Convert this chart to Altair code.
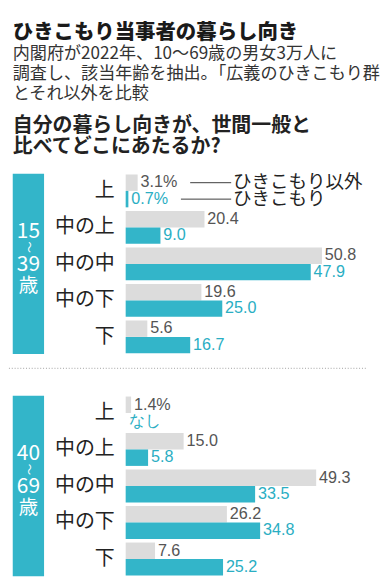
import altair as alt
import pandas as pd

categories = ["上", "中の上", "中の中", "中の下", "下"]
series_names = ["ひきこもり以外", "ひきこもり"]

young_other = [3.1, 20.4, 50.8, 19.6, 5.6]
young_hiki = [0.7, 9.0, 47.9, 25.0, 16.7]
old_other = [1.4, 15.0, 49.3, 26.2, 7.6]
old_hiki = [0.0, 5.8, 33.5, 34.8, 25.2]

young_other_labels = ["3.1%", "20.4", "50.8", "19.6", "5.6"]
young_hiki_labels = ["0.7%", "9.0", "47.9", "25.0", "16.7"]
old_other_labels = ["1.4%", "15.0", "49.3", "26.2", "7.6"]
old_hiki_labels = ["なし", "5.8", "33.5", "34.8", "25.2"]

age_young = ["15", "～", "39", "歳"]
age_old = ["40", "～", "69", "歳"]

legend_x0 = [16.7, 14.3]
legend_x1 = [27.3, 27.3]

title_lines = ["ひきこもり当事者の暮らし向き"]
subtitle_lines = [
    "内閣府が2022年、10～69歳の男女3万人に",
    "調査し、該当年齢を抽出。「広義のひきこもり群",
    "とそれ以外を比較",
]
question_lines = ["自分の暮らし向きが、世間一般と", "比べてどこにあたるか?"]

# baselines of the header lines, in pixels above the top panel's plot area
title_base = [-142]
subtitle_base = [-121, -100, -79]
question_base = [-43.5, -21.5]

TEAL = "#33b5c9"
GRAY = "#dcdcdc"
JP = "Noto Sans CJK JP"
W = 250
H = 190
XMAX = 61.4
LEFT = -119


def header_layer(lines, bases, size, weight, color):
    d = pd.DataFrame({"t": lines, "py": bases})
    return alt.Chart(d).mark_text(align="left", baseline="alphabetic", font=JP,
                                  fontSize=size, fontWeight=weight,
                                  color=color).encode(
        x=alt.value(LEFT), y=alt.Y("py:Q", scale=None), text="t:N")


def panel(other, hiki, other_lbl, hiki_lbl, age, with_legend, with_sep, with_header):
    df = pd.DataFrame({
        "cat": categories * 2,
        "series": [series_names[0]] * 5 + [series_names[1]] * 5,
        "value": other + hiki,
        "label": other_lbl + hiki_lbl,
    })
    y = alt.Y("cat:N", sort=categories,
              scale=alt.Scale(paddingInner=0.1, paddingOuter=0.02),
              axis=alt.Axis(title=None, domain=False, ticks=False,
                            labelFontSize=21, labelFont=JP, labelColor="#222",
                            labelPadding=12))
    yoff = alt.YOffset("series:N", sort=series_names,
                       scale=alt.Scale(paddingInner=0, paddingOuter=0))
    x = alt.X("value:Q", scale=alt.Scale(domain=[0, XMAX], nice=False, zero=True),
              axis=None)
    base = alt.Chart(df)
    bars = base.mark_bar().encode(
        x=x, y=y, yOffset=yoff,
        color=alt.Color("series:N",
                        scale=alt.Scale(domain=series_names, range=[GRAY, TEAL]),
                        legend=None),
    )
    txt_other = base.transform_filter(
        alt.datum.series == series_names[0]
    ).mark_text(align="left", baseline="middle", dx=3, fontSize=17,
                font="Liberation Sans", color="#555").encode(
        x=x, y=y, yOffset=yoff, text="label:N")
    txt_hiki = base.transform_filter(
        alt.datum.series == series_names[1]
    ).mark_text(align="left", baseline="middle", dx=3, fontSize=17,
                font="Liberation Sans", color="#2aaec3").encode(
        x=x, y=y, yOffset=yoff, text="label:N")

    box = alt.Chart(pd.DataFrame({"a": [0]})).mark_rect(color=TEAL).encode(
        x=alt.value(LEFT), x2=alt.value(-86), y=alt.value(0), y2=alt.value(H))
    age_df = pd.DataFrame({"t": age,
                           "py": [H / 2 - 34, H / 2 - 17.5, H / 2, H / 2 + 23.5],
                           "ang": [0, 90, 0, 0], "fs": [22, 12, 22, 20.5]})
    age_txt = alt.Chart(age_df).mark_text(color="white", font=JP, baseline="middle",
                                          align="center").encode(
        x=alt.value(-102.5),
        y=alt.Y("py:Q", scale=None),
        text="t:N",
        angle=alt.Angle("ang:Q", scale=None),
        size=alt.Size("fs:Q", scale=None, legend=None),
    )
    layers = [bars, txt_other, txt_hiki, box, age_txt]

    if with_legend:
        leg_df = pd.DataFrame({"cat": [categories[0]] * 2, "series": series_names,
                               "x0": legend_x0, "x1": legend_x1, "t": series_names})
        leg_rule = alt.Chart(leg_df).mark_rule(color="#333", strokeWidth=1).encode(
            x=alt.X("x0:Q", scale=alt.Scale(domain=[0, XMAX], nice=False), axis=None),
            x2="x1:Q", y=y, yOffset=yoff)
        leg_txt = alt.Chart(leg_df).mark_text(align="left", baseline="middle", dx=2,
                                              fontSize=19.5, font=JP, color="#222").encode(
            x=alt.X("x1:Q", scale=alt.Scale(domain=[0, XMAX], nice=False), axis=None),
            y=y, yOffset=yoff, text="t:N")
        layers += [leg_rule, leg_txt]
    if with_sep:
        sep = alt.Chart(pd.DataFrame({"a": [0]})).mark_rule(
            color="#999", strokeDash=[1, 2], strokeWidth=1).encode(
            x=alt.value(-123), x2=alt.value(W + 4), y=alt.value(H + 15))
        layers.append(sep)
    if with_header:
        layers += [
            header_layer(title_lines, title_base, 21.5, 900, "#1a1a1a"),
            header_layer(subtitle_lines, subtitle_base, 18, "normal", "#333"),
            header_layer(question_lines, question_base, 21, "bold", "#222"),
        ]

    return alt.layer(*layers).properties(width=W, height=H)


top = panel(young_other, young_hiki, young_other_labels, young_hiki_labels,
            age_young, True, True, True)
bottom = panel(old_other, old_hiki, old_other_labels, old_hiki_labels,
               age_old, False, False, False)

chart = alt.vconcat(top, bottom, spacing=28).properties(
    padding={"left": 0, "top": 0, "right": 0, "bottom": 0},
).configure_view(stroke=None)

chart.save("out.html", embed_options={"renderer": "svg", "actions": False})
